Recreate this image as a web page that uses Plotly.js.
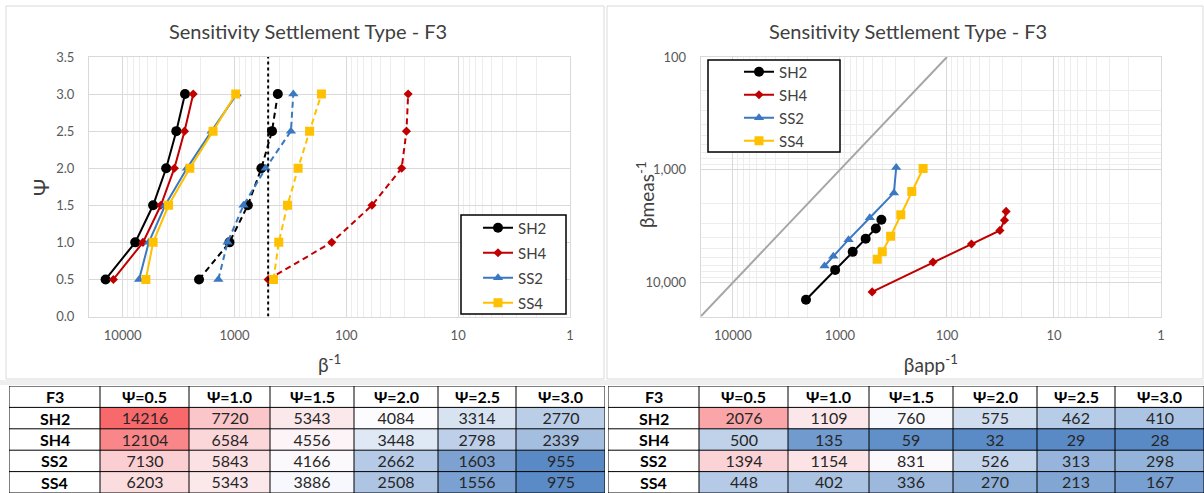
<!DOCTYPE html>
<html><head><meta charset="utf-8">
<script src="https://cdn.plot.ly/plotly-3.0.1.min.js"></script>
<style>html,body{margin:0;padding:0;background:#fff;overflow:hidden}#chart{width:1204px;height:493px}</style>
</head><body><div id="chart"></div>
<script>
// ---------------- data ----------------
const psi = [0.5, 1.0, 1.5, 2.0, 2.5, 3.0];
const psiLabels = ['Ψ=0.5', 'Ψ=1.0', 'Ψ=1.5', 'Ψ=2.0', 'Ψ=2.5', 'Ψ=3.0'];
const seriesNames = ['SH2', 'SH4', 'SS2', 'SS4'];
const tableCorner = 'F3';
const chartTitle = 'Sensitivity Settlement Type - F3';

// β^-1 (left table, solid lines on left chart, y of right chart)
const betaSH2 = [14216, 7720, 5343, 4084, 3314, 2770];
const betaSH4 = [12104, 6584, 4556, 3448, 2798, 2339];
const betaSS2 = [7130, 5843, 4166, 2662, 1603, 955];
const betaSS4 = [6203, 5343, 3886, 2508, 1556, 975];

// βapp^-1 (right table, dashed lines on left chart, x of right chart)
const appSH2 = [2076, 1109, 760, 575, 462, 410];
const appSH4 = [500, 135, 59, 32, 29, 28];
const appSS2 = [1394, 1154, 831, 526, 313, 298];
const appSS4 = [448, 402, 336, 270, 213, 167];

const thresholdBeta = [500, 500];
const thresholdPsi = [0, 3.5];
const oneToOne = [20000, 100];

const xTickVals = [10000, 1000, 100, 10, 1];
const xTickText = ['10000', '1000', '100', '10', '1'];
const yTickVals2 = [100, 1000, 10000];
const yTickText2 = ['100', '1,000', '10,000'];

// ---------------- styles ----------------
const betaSets = [betaSH2, betaSH4, betaSS2, betaSS4];
const appSets = [appSH2, appSH4, appSS2, appSS4];
const sty = [
  {color: '#000000', symbol: 'circle', size: 10},
  {color: '#C00000', symbol: 'diamond', size: 7},
  {color: '#3A78C2', symbol: 'triangle-up', size: 9},
  {color: '#FFC000', symbol: 'square', size: 9}
];
const FONT = 'Lato, "Open Sans", sans-serif';
const W = 1204, H = 493;
const px = v => v / W, py = v => 1 - v / H;
const colWidths = [91, 89, 81, 84, 84, 78, 89];

// minor log gridlines (2..9 per decade)
const minorVals = [];
for (let d = 0; d <= 4; d++) for (let m = 2; m <= 9; m++) { const v = m * Math.pow(10, d); if (v < 20000) minorVals.push(v); }

const traces = [];
// left chart
seriesNames.forEach((n, i) => {
  traces.push({type: 'scatter', mode: 'lines+markers', name: n, x: betaSets[i], y: psi, xaxis: 'x', yaxis: 'y',
    legend: 'legend', legendgroup: 'L' + n,
    line: {color: sty[i].color, width: 2}, marker: {color: sty[i].color, symbol: sty[i].symbol, size: sty[i].size}});
});
seriesNames.forEach((n, i) => {
  traces.push({type: 'scatter', mode: 'lines+markers', name: n, x: appSets[i], y: psi, xaxis: 'x', yaxis: 'y',
    showlegend: false, line: {color: sty[i].color, width: 2, dash: '6px,4px'},
    marker: {color: sty[i].color, symbol: sty[i].symbol, size: sty[i].size}});
});
traces.push({type: 'scatter', mode: 'lines', x: thresholdBeta, y: thresholdPsi, xaxis: 'x', yaxis: 'y', showlegend: false,
  line: {color: '#000', width: 2, dash: 'dot'}, hoverinfo: 'skip'});
// right chart
traces.push({type: 'scatter', mode: 'lines', x: oneToOne, y: oneToOne, xaxis: 'x2', yaxis: 'y2', showlegend: false,
  line: {color: '#A6A6A6', width: 2}, hoverinfo: 'skip'});
seriesNames.forEach((n, i) => {
  traces.push({type: 'scatter', mode: 'lines+markers', name: n, x: appSets[i], y: betaSets[i], xaxis: 'x2', yaxis: 'y2',
    legend: 'legend2', legendgroup: 'R' + n,
    line: {color: sty[i].color, width: 2}, marker: {color: sty[i].color, symbol: sty[i].symbol, size: sty[i].size}});
});

// ---------------- tables (heatmaps) ----------------
const edges = [0];
colWidths.forEach(w => edges.push(edges[edges.length - 1] + w));
const totalW = edges[edges.length - 1];
const nRows = seriesNames.length + 1;
const annotations = [], shapes = [];

function makeTable(sets, ax, lo, mid, hi) {
  const xa = 'x' + ax, ya = 'y' + ax;
  const t = (mid - lo) / (hi - lo);
  traces.push({type: 'heatmap', xaxis: xa, yaxis: ya, x: edges.slice(1), y: seriesNames.map((s, i) => i + 1).concat([nRows]),
    z: sets, text: sets.map(r => r.map(v => String(v))), texttemplate: '%{text}',
    textfont: {family: FONT, size: 16, color: '#262626'}, zmin: lo, zmax: hi, showscale: false, hoverinfo: 'skip',
    colorscale: [[0, '#5A8AC6'], [t, '#FCFCFF'], [1, '#F8696B']]});
  [tableCorner].concat(psiLabels).forEach((s, j) => annotations.push({xref: xa, yref: ya, x: (edges[j] + edges[j + 1]) / 2, y: 0.5,
    text: '<b>' + s + '</b>', showarrow: false, font: {family: FONT, size: 16, color: '#000'}}));
  seriesNames.forEach((s, i) => annotations.push({xref: xa, yref: ya, x: (edges[0] + edges[1]) / 2, y: i + 1.5,
    text: '<b>' + s + '</b>', showarrow: false, font: {family: FONT, size: 16, color: '#000'}}));
  edges.forEach(e => shapes.push({type: 'line', xref: xa, yref: ya, x0: e, x1: e, y0: 0, y1: nRows, layer: 'above', line: {color: '#000', width: 1}}));
  for (let r = 0; r <= nRows; r++) shapes.push({type: 'line', xref: xa, yref: ya, x0: 0, x1: totalW, y0: r, y1: r, layer: 'above', line: {color: '#000', width: 1}});
}
const allBeta = [].concat(...betaSets), allApp = [].concat(...appSets);
makeTable(betaSets, 3, Math.min(...allBeta), 3985, Math.max(...allBeta));
makeTable(appSets, 4, Math.min(...allApp), 780, 3000);

// ---------------- layout ----------------
const grid = '#D9D9D9', minorGrid = '#EDEDED';
const tickFont = {family: FONT, size: 13, color: '#595959'};
function logX(domain, anchor) {
  return {type: 'log', domain: domain, anchor: anchor, range: [Math.log10(20000), 0], tickmode: 'array',
    tickvals: xTickVals, ticktext: xTickText, showgrid: true, gridcolor: grid, gridwidth: 1,
    minor: {tickmode: 'array', tickvals: minorVals, showgrid: true, gridcolor: minorGrid, ticks: ''},
    showline: true, linecolor: grid, mirror: true, ticks: '', zeroline: false, tickfont: tickFont, ticklabelstandoff: 7};
}
function tableAxes(xd) {
  return [{domain: xd, range: [0, totalW], visible: false, fixedrange: true},
          {domain: [0, py(386)], range: [nRows, 0], visible: false, fixedrange: true}];
}
const [tx3, ty3] = tableAxes([px(9), px(9 + totalW)]);
const [tx4, ty4] = tableAxes([px(608), px(608 + totalW)]);
tx3.anchor = 'y3'; ty3.anchor = 'x3'; tx4.anchor = 'y4'; ty4.anchor = 'x4';

const yDom = [py(316.5), py(57)];
const titleFont = {family: FONT, size: 20, color: '#404040'};
const axTitleFont = {family: FONT, size: 19, color: '#404040'};
annotations.push(
  {text: chartTitle, xref: 'paper', yref: 'paper', x: px(308), y: py(31), xanchor: 'center', yanchor: 'middle', showarrow: false, font: titleFont},
  {text: chartTitle, xref: 'paper', yref: 'paper', x: px(908), y: py(31), xanchor: 'center', yanchor: 'middle', showarrow: false, font: titleFont},
  {text: 'Ψ', xref: 'paper', yref: 'paper', x: px(41), y: py(188), xanchor: 'center', yanchor: 'middle', textangle: -90, showarrow: false,
    font: {family: FONT, size: 21, color: '#404040'}},
  {text: 'βmeas<sup>-1</sup>', xref: 'paper', yref: 'paper', x: px(645), y: py(195), xanchor: 'center', yanchor: 'middle', textangle: -90, showarrow: false,
    font: axTitleFont});
shapes.push(
  {type: 'rect', xref: 'paper', yref: 'paper', x0: px(6), x1: px(604), y0: py(379), y1: py(6), line: {color: '#D9D9D9', width: 1}},
  {type: 'rect', xref: 'paper', yref: 'paper', x0: px(607), x1: px(1203), y0: py(379), y1: py(6), line: {color: '#D9D9D9', width: 1}},
  {type: 'rect', xref: 'paper', yref: 'paper', x0: 0, x1: 1, y0: py(385), y1: py(380), line: {width: 0}, fillcolor: '#EFEFEF'},
  {type: 'rect', xref: 'paper', yref: 'paper', x0: px(461), x1: px(566), y0: py(314), y1: py(215), layer: 'above', fillcolor: '#fff', line: {color: '#000', width: 1.5}},
  {type: 'rect', xref: 'paper', yref: 'paper', x0: px(708), x1: px(840), y0: py(152), y1: py(60), layer: 'above', fillcolor: '#fff', line: {color: '#000', width: 1.5}});

const layout = {
  width: W, height: H, margin: {l: 0, r: 0, t: 0, b: 0}, paper_bgcolor: '#fff', plot_bgcolor: '#fff',
  font: {family: FONT, size: 13, color: '#595959'}, showlegend: true,
  xaxis: Object.assign(logX([px(89), px(570)], 'y'), {title: {text: 'β<sup>-1</sup>', font: axTitleFont, standoff: 16}}),
  yaxis: {domain: yDom, anchor: 'x', range: [0, 3.5], tick0: 0, dtick: 0.5, tickformat: '.1f', showgrid: true, gridcolor: grid,
    showline: true, linecolor: grid, mirror: true, ticks: '', zeroline: false, tickfont: tickFont, ticklabelstandoff: 11},
  xaxis2: Object.assign(logX([px(700.7), px(1161)], 'y2'), {title: {text: 'βapp<sup>-1</sup>', font: axTitleFont, standoff: 16}}),
  yaxis2: {type: 'log', domain: yDom, anchor: 'x2', range: [Math.log10(20000), 2], tickmode: 'array', tickvals: yTickVals2, ticktext: yTickText2,
    showgrid: true, gridcolor: grid, minor: {tickmode: 'array', tickvals: minorVals, showgrid: true, gridcolor: minorGrid, ticks: ''},
    showline: true, linecolor: grid, mirror: true, ticks: '', zeroline: false, tickfont: tickFont, ticklabelstandoff: 11},
  xaxis3: tx3, yaxis3: ty3, xaxis4: tx4, yaxis4: ty4,
  legend: {x: px(478), y: py(211.5), xanchor: 'left', yanchor: 'top', bgcolor: 'rgba(0,0,0,0)', borderwidth: 0,
    font: {family: FONT, size: 15, color: '#404040'}, tracegroupgap: 2.5, itemwidth: 30},
  legend2: {x: px(739), y: py(55.5), xanchor: 'left', yanchor: 'top', bgcolor: 'rgba(0,0,0,0)', borderwidth: 0,
    font: {family: FONT, size: 15, color: '#404040'}, tracegroupgap: 0.5, itemwidth: 30},
  annotations: annotations, shapes: shapes
};
Plotly.newPlot('chart', traces, layout, {displayModeBar: false, staticPlot: true});
</script></body></html>
